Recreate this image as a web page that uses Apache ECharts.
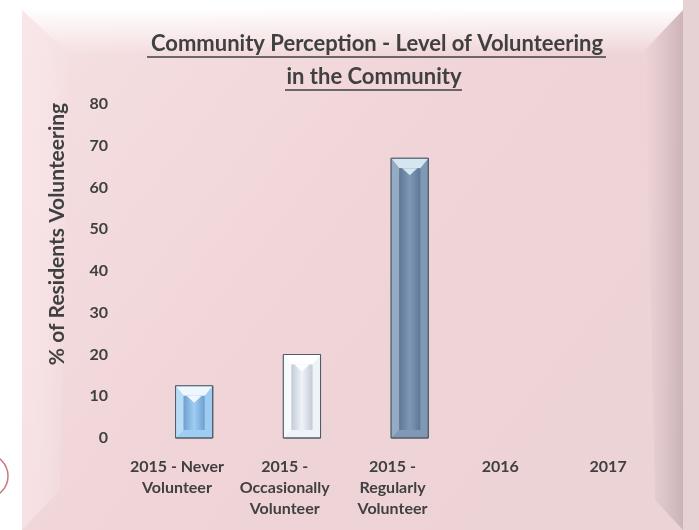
<!DOCTYPE html>
<html><head><meta charset="utf-8">
<script src="https://cdn.jsdelivr.net/npm/echarts@6/dist/echarts.min.js"></script>
<style>html,body{margin:0;padding:0;background:#fff;}#c{width:699px;height:530px;}</style>
</head><body><div id="c"></div>
<script>
var categories = ['2015 - Never\nVolunteer', '2015 -\nOccasionally\nVolunteer', '2015 -\nRegularly\nVolunteer', '2016', '2017'];
var values = [12.5, 20, 67, null, null];
var yTicks = [0, 10, 20, 30, 40, 50, 60, 70, 80];
var titleLines = ['Community Perception - Level of Volunteering', 'in the Community'];
var yTitle = '% of Residents Volunteering';

var barStyles = [
  {outer: '#9fcdf2', inner: '#6f9fcf', cap: '#eef7fd', side: '#b8dcf6'},
  {outer: '#eef3f7', inner: '#c2ccd6', cap: '#ffffff', side: '#f7fafc'},
  {outer: '#7f98b4', inner: '#5d7796', cap: '#d6e6f0', side: '#94abc3'}
];

var chart = echarts.init(document.getElementById('c'));
var FONT = 'Lato';
chart.setOption({
  backgroundColor: 'transparent',
  animation: false,
  graphic: [
    {type: 'rect', z: -10, shape: {x: 683, y: 0, width: 16, height: 530}, style: {fill: '#e6d1d4'}},
    {type: 'rect', z: -9, shape: {x: 22, y: 10, width: 661, height: 520},
      style: {fill: new echarts.graphic.LinearGradient(0, 0, 1, 1, [
        {offset: 0, color: '#f5e0e2'}, {offset: 0.5, color: '#f0d4d7'}, {offset: 1, color: '#ebd3d6'}])}},
    {type: 'polygon', z: -8, shape: {points: [[22, 10], [683, 10], [640, 55], [70, 55]]},
      style: {fill: new echarts.graphic.LinearGradient(0, 0, 0, 1, [
        {offset: 0, color: 'rgba(255,255,255,0.95)'}, {offset: 1, color: 'rgba(255,255,255,0)'}])}},
    {type: 'polygon', z: -8, shape: {points: [[683, 10], [683, 530], [655, 500], [645, 50]]},
      style: {fill: new echarts.graphic.LinearGradient(0, 0, 1, 0, [
        {offset: 0, color: 'rgba(160,140,145,0)'}, {offset: 1, color: 'rgba(140,120,125,0.35)'}])}},
    {type: 'polygon', z: -8, shape: {points: [[22, 10], [70, 55], [60, 490], [22, 530]]},
      style: {fill: new echarts.graphic.LinearGradient(0, 0, 1, 0, [
        {offset: 0, color: 'rgba(255,235,238,0.5)'}, {offset: 1, color: 'rgba(255,255,255,0)'}])}},
    {type: 'circle', z: -7, shape: {cx: -14, cy: 476, r: 22}, style: {fill: 'none', stroke: '#c87a80', lineWidth: 1.5}},
    {type: 'text', x: 377, y: 44, style: {text: titleLines[0], font: 'bold 22px ' + FONT, fill: '#404040', align: 'center', verticalAlign: 'middle'}},
    {type: 'text', x: 374, y: 77, style: {text: titleLines[1], font: 'bold 22px ' + FONT, fill: '#404040', align: 'center', verticalAlign: 'middle'}},
    {type: 'line', shape: {x1: 147, y1: 57, x2: 606, y2: 57}, style: {stroke: '#404040', lineWidth: 1.5}},
    {type: 'line', shape: {x1: 285, y1: 90, x2: 462, y2: 90}, style: {stroke: '#404040', lineWidth: 1.5}},
    {type: 'text', x: 57, y: 234, rotation: Math.PI / 2,
      style: {text: yTitle, font: 'bold 21px ' + FONT, fill: '#404040', align: 'center', verticalAlign: 'middle'}}
  ],
  grid: {left: 123, right: 37, top: 104, bottom: 92, containLabel: false},
  xAxis: {
    type: 'category', data: categories,
    axisLine: {show: false}, axisTick: {show: false},
    axisLabel: {interval: 0, color: '#404040', fontFamily: FONT, fontWeight: 'bold', fontSize: 16, lineHeight: 21, margin: 18}
  },
  yAxis: {
    type: 'value', min: yTicks[0], max: yTicks[yTicks.length - 1], interval: 10,
    axisLine: {show: false}, axisTick: {show: false}, splitLine: {show: false},
    axisLabel: {color: '#404040', fontFamily: FONT, fontWeight: 'bold', fontSize: 16, margin: 15}
  },
  series: [{
    type: 'custom',
    data: values.map(function (v, i) { return [i, v]; }),
    renderItem: function (params, api) {
      var v = api.value(1);
      if (v == null || isNaN(v)) return;
      var i = api.value(0);
      var top = api.coord([i, v]);
      var base = api.coord([i, 0]);
      var band = api.size([1, 0])[0];
      var w = band * 0.345;
      var cx = top[0] + band * 0.16;
      var x0 = cx - w / 2, x1 = cx + w / 2;
      var y0 = top[1], y1 = base[1];
      var s = barStyles[i % barStyles.length];
      var ins = 8;
      var ix0 = x0 + ins, ix1 = x1 - ins, iy0 = y0 + ins + 2, iy1 = y1 - ins;
      return {
        type: 'group',
        children: [
          {type: 'rect', shape: {x: x0, y: y0, width: w, height: y1 - y0},
            style: {fill: s.outer, stroke: '#4f5b68', lineWidth: 1}},
          {type: 'polygon', shape: {points: [[x0, y0], [x1, y0], [ix1, iy0], [ix0, iy0]]}, style: {fill: s.cap}},
          {type: 'polygon', shape: {points: [[x0, y0], [ix0, iy0], [ix0, iy1], [x0, y1]]}, style: {fill: s.side}},
          {type: 'rect', shape: {x: ix0, y: iy0, width: ix1 - ix0, height: Math.max(0, iy1 - iy0)},
            style: {fill: new echarts.graphic.LinearGradient(0, 0, 1, 0, [
              {offset: 0, color: s.inner}, {offset: 0.5, color: s.outer}, {offset: 1, color: s.inner}])}},
          {type: 'polygon', shape: {points: [[ix0 + 3, iy0], [ix1 - 3, iy0], [(ix0 + ix1) / 2, iy0 + 7]]}, style: {fill: s.cap}},
          {type: 'rect', shape: {x: x0, y: y0, width: w, height: y1 - y0},
            style: {fill: 'none', stroke: '#4f5b68', lineWidth: 1}}
        ]
      };
    }
  }]
});
</script></body></html>
